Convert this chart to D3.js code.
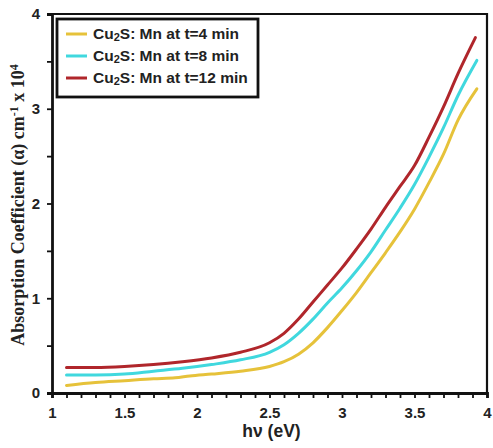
<!DOCTYPE html>
<html>
<head>
<meta charset="utf-8">
<script src="https://cdn.jsdelivr.net/npm/d3@7"></script>
<style>
  body { margin: 0; background: #fff; }
  svg { display: block; }
  .tick text { font-family: Arial, "Liberation Sans", sans-serif; font-size: 15px; font-weight: bold; fill: #222; }
</style>
</head>
<body>
<div id="chart"></div>
<script>
// photon energy (eV) for each sampled point
var energy4 = [1.1, 1.3, 1.5, 1.7, 1.85, 1.95, 2.1, 2.3, 2.5, 2.6, 2.7, 2.8, 2.9, 3.0, 3.1, 3.2, 3.3, 3.4, 3.5, 3.6, 3.7, 3.8, 3.93];
var alpha4  = [0.08, 0.11, 0.13, 0.15, 0.16, 0.18, 0.20, 0.23, 0.28, 0.33, 0.41, 0.53, 0.69, 0.87, 1.06, 1.27, 1.48, 1.70, 1.94, 2.22, 2.52, 2.88, 3.21];

var energy8 = [1.1, 1.3, 1.5, 1.7, 1.9, 2.1, 2.3, 2.5, 2.6, 2.7, 2.8, 2.9, 3.0, 3.1, 3.2, 3.3, 3.4, 3.5, 3.6, 3.7, 3.8, 3.93];
var alpha8  = [0.19, 0.19, 0.20, 0.23, 0.26, 0.30, 0.35, 0.43, 0.51, 0.63, 0.78, 0.95, 1.11, 1.29, 1.49, 1.72, 1.95, 2.20, 2.49, 2.80, 3.14, 3.51];

var energy12 = [1.1, 1.3, 1.5, 1.7, 1.9, 2.1, 2.3, 2.5, 2.6, 2.7, 2.8, 2.9, 3.0, 3.1, 3.2, 3.3, 3.4, 3.5, 3.6, 3.7, 3.8, 3.92];
var alpha12  = [0.27, 0.27, 0.28, 0.30, 0.33, 0.37, 0.43, 0.53, 0.63, 0.78, 0.96, 1.14, 1.32, 1.52, 1.73, 1.96, 2.18, 2.40, 2.70, 3.02, 3.37, 3.75];

var seriesNames = ['Mn at t=4 min', 'Mn at t=8 min', 'Mn at t=12 min'];
var seriesColors = ['#E6C23A', '#40D8DE', '#B0262B'];

var xTickLabels = [1, 1.5, 2, 2.5, 3, 3.5, 4];
var yTickLabels = [0, 1, 2, 3, 4];

var series = [
  { name: seriesNames[0], color: seriesColors[0], x: energy4, y: alpha4 },
  { name: seriesNames[1], color: seriesColors[1], x: energy8, y: alpha8 },
  { name: seriesNames[2], color: seriesColors[2], x: energy12, y: alpha12 }
];

var width = 493, height = 448;
var margin = { top: 14, right: 6, bottom: 55, left: 52 };

var svg = d3.select('#chart').append('svg')
  .attr('width', width)
  .attr('height', height);

var x = d3.scaleLinear().domain([1, 4]).range([margin.left, width - margin.right]);
var y = d3.scaleLinear().domain([0, 4]).range([height - margin.bottom, margin.top]);

// frame (top + right)
svg.append('path')
  .attr('d', 'M' + x(1) + ',' + y(4) + 'H' + x(4) + 'V' + y(0))
  .attr('fill', 'none')
  .attr('stroke', '#111')
  .attr('stroke-width', 2.2);

// minor ticks every 0.1 on x
var xAxis = d3.axisBottom(x)
  .tickValues(d3.range(10, 41).map(function (d) { return d / 10; }))
  .tickSize(5)
  .tickFormat(function (d) {
    return xTickLabels.some(function (t) { return Math.abs(t - d) < 1e-6; }) ? d3.format('')(+d.toFixed(1)) : '';
  });

var gx = svg.append('g')
  .attr('transform', 'translate(0,' + y(0) + ')')
  .call(xAxis);
gx.select('.domain').attr('stroke', '#111').attr('stroke-width', 2.8);
gx.selectAll('.tick line').attr('stroke', '#111').attr('stroke-width', 1.8);
gx.selectAll('.tick text').attr('dy', '1.1em');

var yAxis = d3.axisLeft(y)
  .tickValues(d3.range(0, 9).map(function (d) { return d / 2; }))
  .tickSize(5)
  .tickFormat(function (d) {
    return yTickLabels.indexOf(d) >= 0 ? d : '';
  });

var gy = svg.append('g')
  .attr('transform', 'translate(' + x(1) + ',0)')
  .call(yAxis);
gy.select('.domain').attr('stroke', '#111').attr('stroke-width', 2.8);
gy.selectAll('.tick line').attr('stroke', '#111').attr('stroke-width', 1.8);
gy.selectAll('.tick text').attr('x', -12);

// curves
var line = d3.line()
  .x(function (d) { return x(d[0]); })
  .y(function (d) { return y(d[1]); })
  .curve(d3.curveMonotoneX);

series.forEach(function (s) {
  svg.append('path')
    .datum(d3.zip(s.x, s.y))
    .attr('fill', 'none')
    .attr('stroke', s.color)
    .attr('stroke-width', 3)
    .attr('stroke-linecap', 'round')
    .attr('d', line);
});

// legend
var legend = svg.append('g').attr('transform', 'translate(57,19)');
legend.append('rect')
  .attr('width', 201)
  .attr('height', 78)
  .attr('fill', '#fff')
  .attr('stroke', '#111')
  .attr('stroke-width', 2.8);

series.forEach(function (s, i) {
  var row = legend.append('g').attr('transform', 'translate(0,' + (15 + i * 22) + ')');
  row.append('line')
    .attr('x1', 9).attr('x2', 30)
    .attr('stroke', s.color)
    .attr('stroke-width', 3);
  var t = row.append('text')
    .attr('x', 36)
    .attr('dy', '0.35em')
    .style('font-family', 'Arial, "Liberation Sans", sans-serif')
    .style('font-size', '15.5px')
    .style('font-weight', 'bold')
    .attr('fill', '#222');
  t.append('tspan').text('Cu');
  t.append('tspan').text('2').style('font-size', '11px').attr('dy', '2');
  t.append('tspan').text('S: ' + s.name).attr('dy', '-2');
});

// axis titles
svg.append('text')
  .attr('x', x(2.5) + 2)
  .attr('y', 437)
  .attr('text-anchor', 'middle')
  .style('font-family', 'Arial, "Liberation Sans", sans-serif')
  .style('font-size', '17.5px')
  .style('font-weight', 'bold')
  .attr('fill', '#222')
  .text('h\u03bd (eV)');

var yt = svg.append('text')
  .attr('transform', 'translate(24,' + 205 + ') rotate(-90)')
  .attr('text-anchor', 'middle')
  .style('font-family', '"Times New Roman", "Liberation Serif", serif')
  .style('font-size', '18px')
  .style('font-weight', 'bold')
  .attr('fill', '#222');
yt.append('tspan').text('Absorption Coefficient (\u03b1) cm');
yt.append('tspan').text('-1').style('font-size', '12px').attr('dy', '-6');
yt.append('tspan').text(' x 10').attr('dy', '6');
yt.append('tspan').text('4').style('font-size', '12px').attr('dy', '-6');
</script>
</body>
</html>
